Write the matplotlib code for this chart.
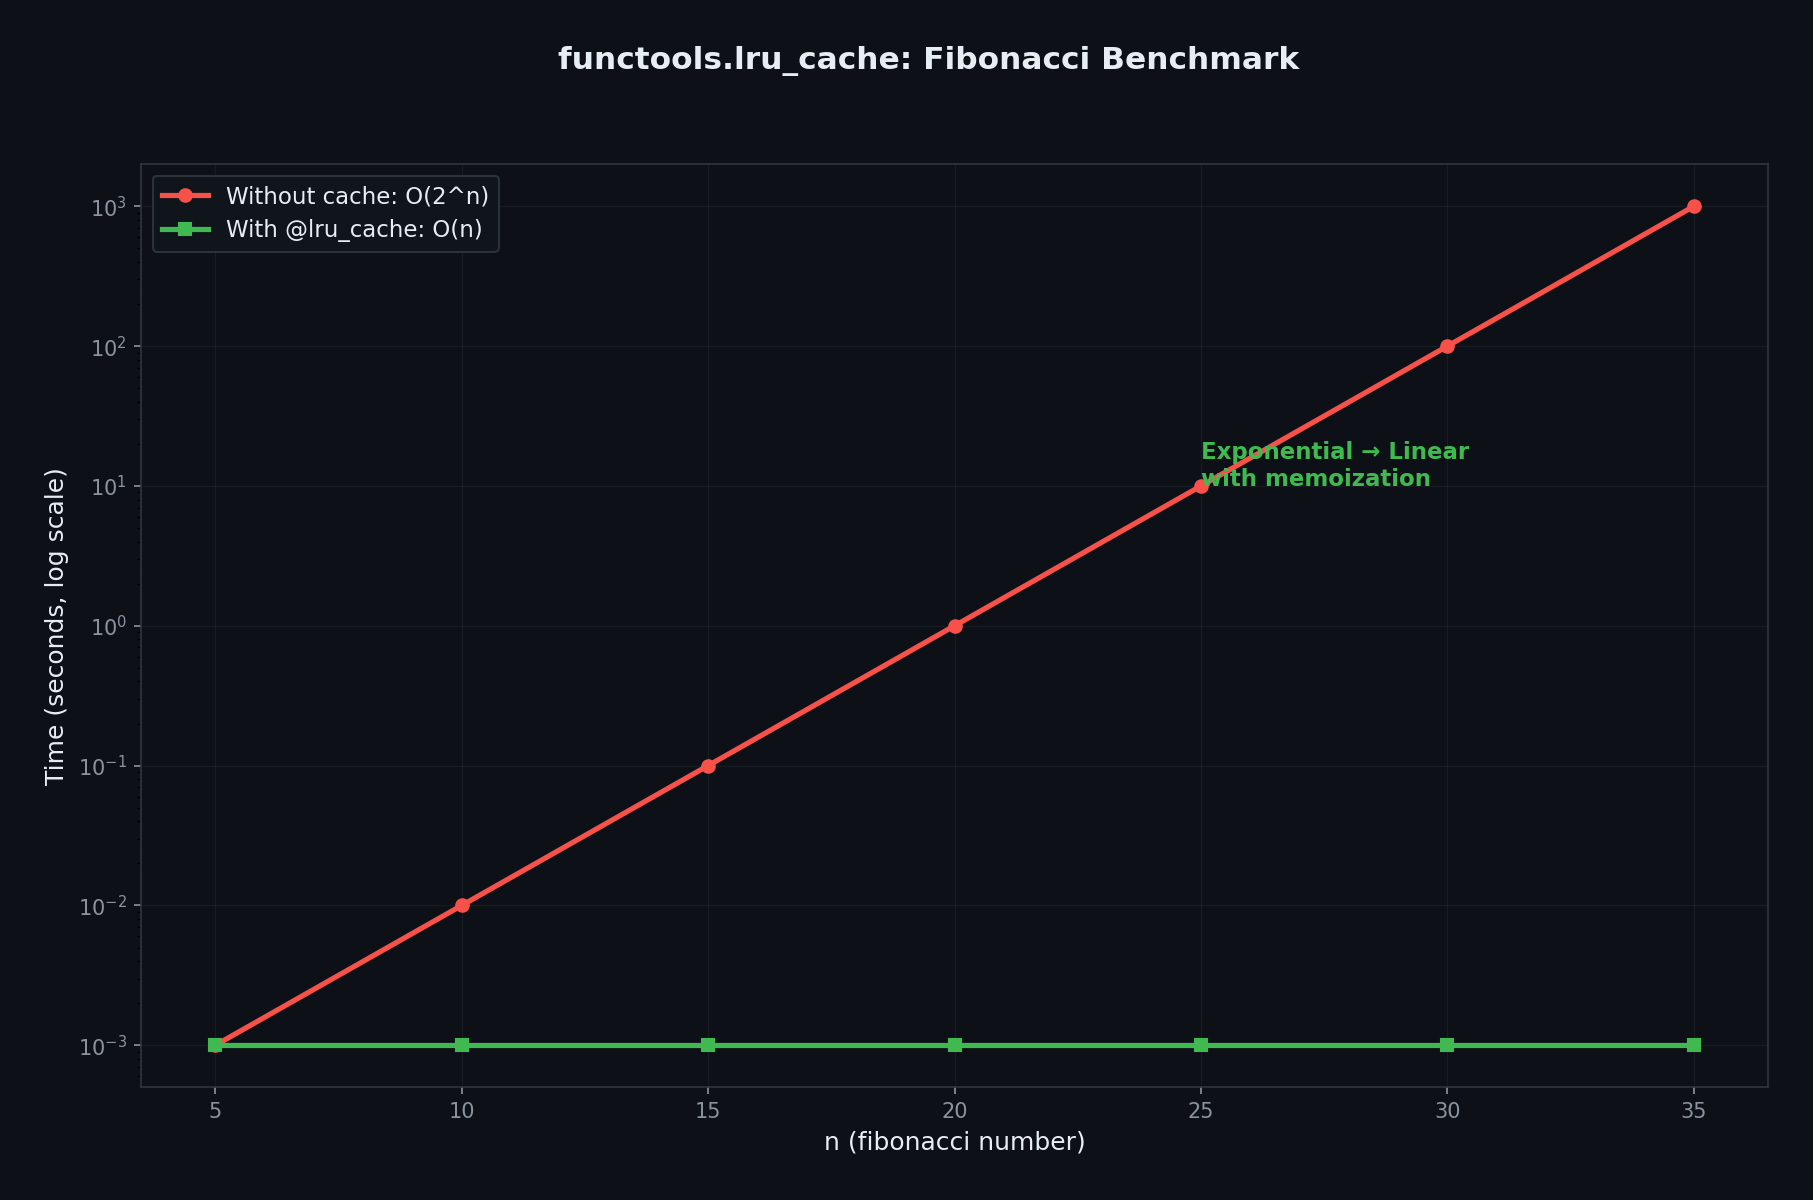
import numpy as np
import matplotlib.pyplot as plt

n_values = [5, 10, 15, 20, 25, 30, 35]
time_no_cache = [1e-3, 1e-2, 1e-1, 1e0, 1e1, 1e2, 1e3]
time_lru_cache = [1e-3, 1e-3, 1e-3, 1e-3, 1e-3, 1e-3, 1e-3]

bg = "#0d1117"
red = "#f85149"
green = "#3fb950"
text_c = "#e6edf3"
muted = "#8b949e"
edge = "#30363d"

fig, ax = plt.subplots(figsize=(1813 / 150, 1200 / 150), dpi=150)
fig.patch.set_facecolor(bg)
ax.set_facecolor(bg)

ax.plot(n_values, time_no_cache, color=red, lw=2.5, marker="o", ms=6,
        label="Without cache: O(2^n)")
ax.plot(n_values, time_lru_cache, color=green, lw=2.5, marker="s", ms=6,
        label="With @lru_cache: O(n)")
ax.set_yscale("log")

ax.annotate("Exponential → Linear\nwith memoization", xy=(25, 10), xytext=(25, 10),
            color=green, fontsize=11, fontweight="bold")

ax.set_xlabel("n (fibonacci number)", color=text_c, fontsize=12)
ax.set_ylabel("Time (seconds, log scale)", color=text_c, fontsize=12)
fig.suptitle("functools.lru_cache: Fibonacci Benchmark", color=text_c,
             fontsize=15, fontweight="bold", x=0.512, y=0.962)

ax.tick_params(colors=muted, labelsize=10)
for s in ax.spines.values():
    s.set_color(edge)
ax.grid(True, which="major", color=edge, alpha=0.3, lw=0.6)

leg = ax.legend(loc="upper left", fontsize=11, facecolor="#11161d",
                edgecolor=edge, labelcolor=text_c, framealpha=0.9)

fig.subplots_adjust(left=0.078, right=0.975, top=0.863, bottom=0.094)
fig.savefig("out.png", dpi=150, facecolor=bg)
